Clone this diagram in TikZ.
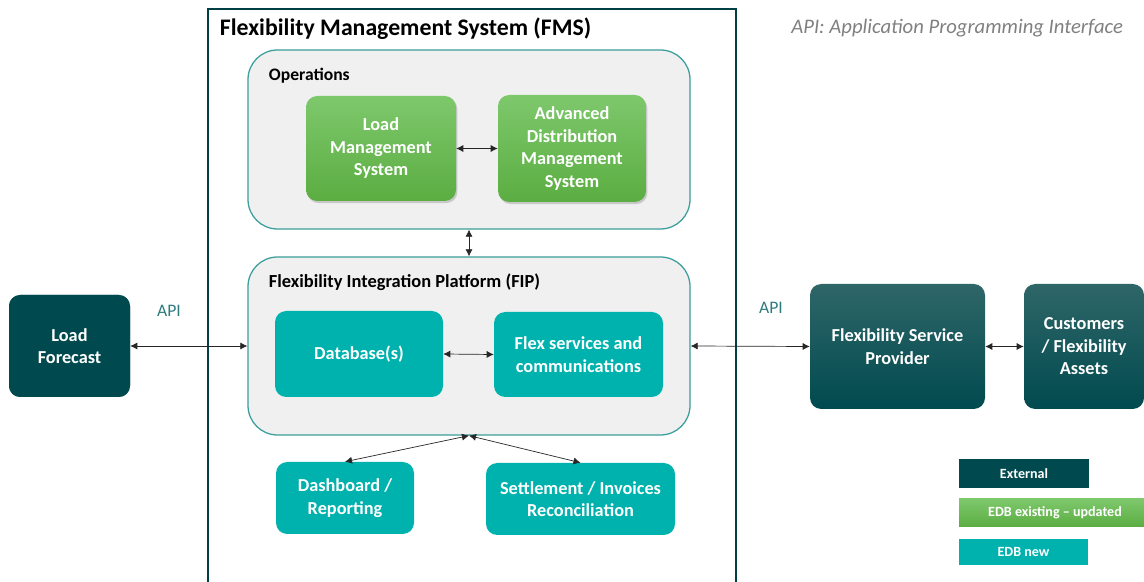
\documentclass[tikz,border=0pt]{standalone}
\usepackage{fontspec}
\setmainfont{Carlito}
\usepackage{tikz}
\usetikzlibrary{calc,arrows.meta,shadows}
\usepackage{xcolor}

\definecolor{extdark}{HTML}{004A4F}
\definecolor{exttop}{HTML}{2F6668}
\definecolor{grntop}{HTML}{7EC86C}
\definecolor{grnbot}{HTML}{5BAD42}
\definecolor{edbnew}{HTML}{00B2AD}
\definecolor{frame}{HTML}{3A9E9C}
\definecolor{apiteal}{HTML}{2E7B7E}

\begin{document}
\begin{tikzpicture}[x=0.025cm,y=-0.025cm,
  box/.style={rectangle,rounded corners=8pt,inner sep=0pt,align=center,text=white,
    font=\fontsize{13}{16}\selectfont\bfseries},
  ext/.style={box,top color=exttop,bottom color=extdark,draw=none},
  grn/.style={box,top color=grntop,bottom color=grnbot,
    drop shadow={opacity=0.35,shadow xshift=1pt,shadow yshift=-1.5pt}},
  new/.style={box,fill=edbnew},
  pane/.style={rectangle,rounded corners=21pt,draw=frame,line width=0.9pt,fill=black!6},
  leg/.style={rectangle,inner sep=0pt,text=white,font=\fontsize{10}{12}\selectfont\bfseries},
  link/.style={{Latex[length=5pt,width=5pt]}-{Latex[length=5pt,width=5pt]},line width=0.5pt,black!85}]
\clip (0,0) rectangle (1144,582);

% FMS frame
\draw [extdark!85!black, line width=2pt] (208,9) rectangle (736,600);
\node [anchor=west, font=\fontsize{16.9}{19}\selectfont\bfseries] at (215,29) {Flexibility Management System (FMS)};
\node [anchor=east, text=black!50, font=\fontsize{14.7}{17}\selectfont\itshape] at (1128,28) {API: Application Programming Interface};

% operations
\node [pane, minimum width=442*0.025cm, minimum height=179*0.025cm] (ops) at (469,139.5) {};
\node [anchor=west, font=\fontsize{12.5}{15}\selectfont\bfseries] at (264,76) {Operations};
\node [grn, minimum width=150*0.025cm, minimum height=105*0.025cm] (lms) at (381,148.5) {Load\\Management\\System};
\node [grn, minimum width=148*0.025cm, minimum height=107*0.025cm] (adms) at (572,148.5) {Advanced\\Distribution\\Management\\System};

% integration platform
\node [pane, minimum width=442*0.025cm, minimum height=178*0.025cm] (fip) at (469,346) {};
\node [anchor=west, font=\fontsize{13.1}{15}\selectfont\bfseries] at (264,282) {Flexibility Integration Platform (FIP)};
\node [new, minimum width=168*0.025cm, minimum height=86*0.025cm] (db) at (359,354) {Database(s)};
\node [new, minimum width=169*0.025cm, minimum height=85*0.025cm] (flex) at (578.5,354.5) {Flex services and\\communications};

\node [new, minimum width=138*0.025cm, minimum height=72*0.025cm] (dash) at (345,498) {Dashboard /\\Reporting};
\node [new, minimum width=189*0.025cm, minimum height=72*0.025cm] (settle) at (580.5,499) {Settlement / Invoices\\Reconciliation};

% outside
\node [ext, fill=extdark, top color=extdark, minimum width=121*0.025cm, minimum height=102*0.025cm] (lf) at (69.5,346) {Load\\Forecast};
\node [ext, minimum width=175*0.025cm, minimum height=125*0.025cm] (fsp) at (897.5,346.5) {Flexibility Service\\Provider};
\node [ext, minimum width=120*0.025cm, minimum height=125*0.025cm] (cust) at (1084,346.5) {Customers\\/ Flexibility\\Assets};

\node [text=apiteal, font=\fontsize{12.5}{15}\selectfont] (api1) at (169,311) {API};
\node [text=apiteal, font=\fontsize{12.5}{15}\selectfont] (api2) at (771,308) {API};

% links
\draw [link] (lms.east) -- (adms.west);
\draw [link] (ops.south) -- (fip.north);
\draw [link] (db.east) -- (flex.west);
\draw [link] (lf.east) -- (fip.west);
\draw [link] (fip.east) -- (fsp.west);
\draw [link] (fsp.east) -- (cust.west);
\coordinate (fb) at ($(fip.south)+(0,0)$);
\draw [link] (fb) -- (dash.north);
\draw [link] (fb) -- (settle.north);

% legend
\node [leg, fill=extdark, minimum width=130*0.025cm, minimum height=29*0.025cm] (lg1) at (1024,473.5) {External};
\node [leg, top color=grntop, bottom color=grnbot, minimum width=192*0.025cm, minimum height=28*0.025cm] (lg2) at (1055,513) {EDB existing -- updated};
\node [leg, fill=edbnew, minimum width=129*0.025cm, minimum height=26*0.025cm] (lg3) at (1023.5,552) {EDB new};
\end{tikzpicture}
\end{document}
